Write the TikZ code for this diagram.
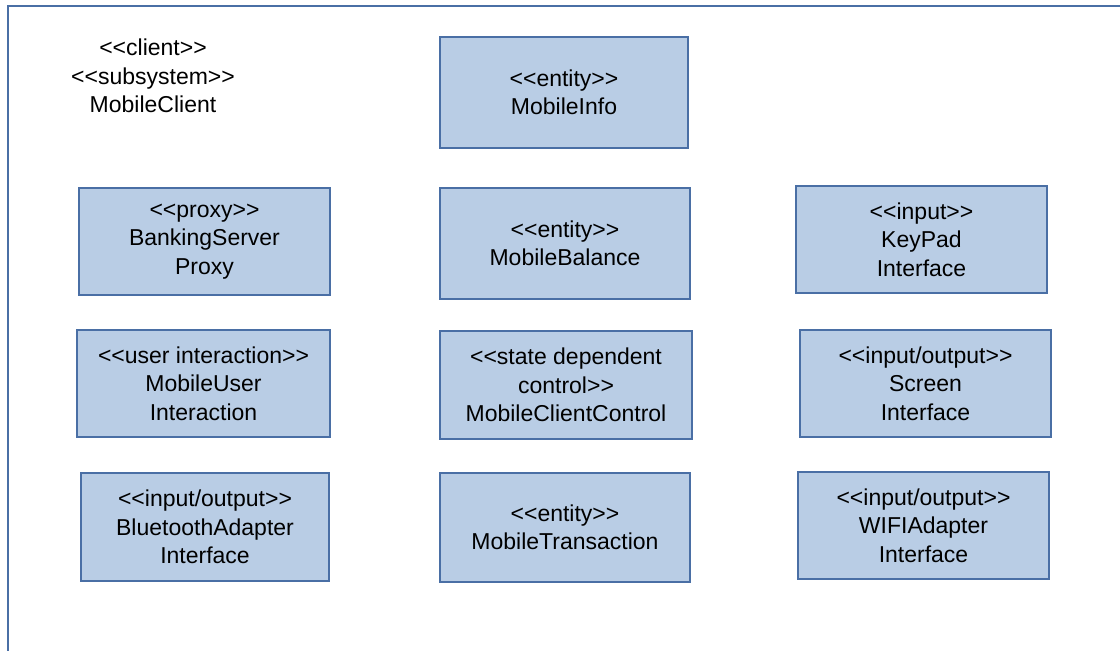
\documentclass[tikz,border=0pt]{standalone}
\usepackage{fontspec}
\setmainfont[Ligatures=NoCommon]{Liberation Sans}
\definecolor{boxfill}{HTML}{B9CDE5}
\definecolor{boxline}{HTML}{4A6FA5}
\newcommand{\lt}{<{}<}
\newcommand{\gt}{>{}>}
\begin{document}
\begin{tikzpicture}[x=1pt,y=-1pt,
  cls/.style={draw=boxline,fill=boxfill,line width=1.6pt,inner sep=0pt,align=center,
    font=\fontsize{23}{28.5}\selectfont},
  lbl/.style={align=center,inner sep=0pt,font=\fontsize{23}{28.5}\selectfont}]
\useasboundingbox (0,0) rectangle (1120,651);
\coordinate (fbl) at (7.5,660);
\coordinate (ftl) at (7.5,5.5);
\coordinate (ftr) at (1130,5.5);
\draw[draw=boxline,line width=2pt] (fbl) -- (ftl) -- (ftr);
\node[lbl] (mc) at (153,76) {\lt client\gt\\\lt subsystem\gt\\MobileClient};
\newcommand{\cbox}[6]{\node[cls,minimum width=#3-#1,minimum height=#4-#2] (#5) at ({(#1+#3)/2},{(#2+#4)/2}) {#6};}
\cbox{440}{37}{688}{148}{info}{\lt entity\gt\\MobileInfo}
\cbox{79}{188}{330}{295}{proxy}{\lt proxy\gt\\BankingServer\\Proxy}
\cbox{440}{188}{690}{299}{bal}{\lt entity\gt\\MobileBalance}
\cbox{796}{186}{1047}{293}{key}{\lt input\gt\\KeyPad\\Interface}
\cbox{77}{330}{330}{437}{ui}{\lt user interaction\gt\\MobileUser\\Interaction}
\cbox{440}{331}{692}{439}{ctrl}{\lt state dependent\\control\gt\\MobileClientControl}
\cbox{800}{330}{1051}{437}{scr}{\lt input/output\gt\\Screen\\Interface}
\cbox{81}{473}{329}{581}{bt}{\lt input/output\gt\\BluetoothAdapter\\Interface}
\cbox{440}{473}{690}{582}{tx}{\lt entity\gt\\MobileTransaction}
\cbox{798}{472}{1049}{579}{wifi}{\lt input/output\gt\\WIFIAdapter\\Interface}
\end{tikzpicture}
\end{document}
